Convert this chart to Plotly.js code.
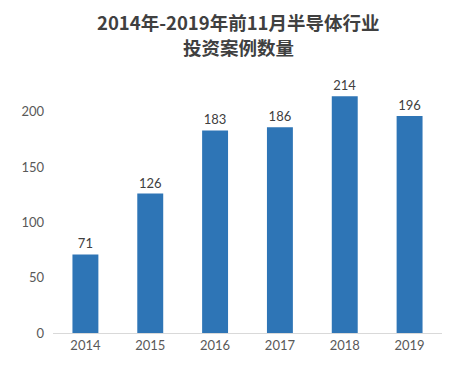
<!DOCTYPE html>
<html><head><meta charset="utf-8">
<script src="https://cdn.plot.ly/plotly-3.0.1.min.js"></script>
<style>html,body{margin:0;padding:0;background:#fff;}#chart{width:460px;height:369px;}</style>
</head><body><div id="chart"></div>
<script>
const years = ['2014','2015','2016','2017','2018','2019'];
const counts = [71, 126, 183, 186, 214, 196];
const titleLines = ['2014年-2019年前11月半导体行业', '投资案例数量'];
const yTicks = [0, 50, 100, 150, 200];

const trace = {
  type: 'bar', x: years, y: counts,
  marker: {color: '#2E75B6'},
  width: 0.4,
  text: counts.map(String), textposition: 'outside',
  textfont: {family: 'Lato, "Open Sans", sans-serif', size: 13, color: '#404040'},
  cliponaxis: false, hoverinfo: 'none'
};
const titleFont = {family: '"Noto Sans CJK SC", sans-serif', size: 18.5, color: '#404040', weight: 'bold'};
const layout = {
  width: 460, height: 369,
  margin: {l: 53, r: 18, t: 84, b: 36},
  paper_bgcolor: '#fff', plot_bgcolor: '#fff',
  annotations: [
    {text: titleLines[0], xref: 'paper', yref: 'paper', x: 0.4756, y: 1.249, xanchor: 'center', yanchor: 'middle', showarrow: false, font: titleFont},
    {text: titleLines[1], xref: 'paper', yref: 'paper', x: 0.4756, y: 1.149, xanchor: 'center', yanchor: 'middle', showarrow: false, font: titleFont}
  ],
  xaxis: {type: 'category', showgrid: false, zeroline: false, showline: true, linecolor: '#D9D9D9', linewidth: 1,
    ticks: '', tickfont: {family: 'Lato, "Open Sans", sans-serif', size: 13, color: '#595959'}},
  yaxis: {range: [0, 225], tickvals: yTicks, showgrid: false, zeroline: false, showline: false,
    ticks: '', ticklabelstandoff: 8,
    tickfont: {family: 'Lato, "Open Sans", sans-serif', size: 13, color: '#595959'}},
  showlegend: false, bargap: 0.6
};
Plotly.newPlot('chart', [trace], layout, {staticPlot: true, displayModeBar: false});
</script></body></html>
